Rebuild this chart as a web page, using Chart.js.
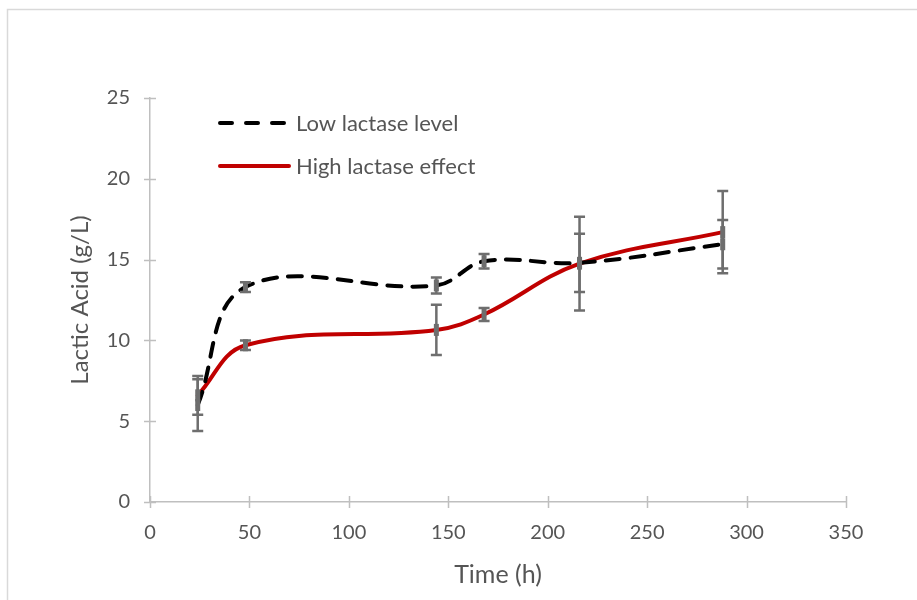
<!DOCTYPE html>
<html>
<head>
<meta charset="utf-8">
<script src="https://cdn.jsdelivr.net/npm/chart.js@4.4.1/dist/chart.umd.min.js"></script>
<style>
    html, body { margin: 0; padding: 0; background: #fff; }
    #wrap { width: 917px; height: 600px; }
</style>
</head>
<body>
<div id="wrap"><canvas id="myChart" width="917" height="600"></canvas></div>
<script>
// values
const hours = [24, 48, 144, 168, 216, 288];
const lowLactase = [6.0, 13.3, 13.4, 14.9, 14.8, 15.95];
const lowLactaseErr = [1.6, 0.3, 0.5, 0.45, 1.8, 1.5];
const highLactase = [6.6, 9.7, 10.65, 11.6, 14.75, 16.7];
const highLactaseErr = [1.2, 0.3, 1.55, 0.4, 2.9, 2.55];
const seriesNames = ['Low lactase level', 'High lactase effect'];
const xTicks = [0, 50, 100, 150, 200, 250, 300, 350];
const yTicks = [0, 5, 10, 15, 20, 25];

const textColor = '#555555';
const axisColor = '#bfbfbf';
const errColor = '#6e6e6e';
const fontFamily = 'Lato, "Open Sans", sans-serif';

const toPoints = (ys) => hours.map((x, i) => ({ x, y: ys[i] }));

const frame = {
    id: 'frame',
    beforeDraw(chart) {
        const { ctx } = chart;
        ctx.save();
        ctx.strokeStyle = '#d9d9d9';
        ctx.lineWidth = 1.5;
        ctx.beginPath();
        ctx.moveTo(7.5, 600);
        ctx.lineTo(7.5, 9.5);
        ctx.lineTo(917, 9.5);
        ctx.stroke();
        ctx.restore();
    },
    afterDraw(chart) {
        // tick marks crossing the axis lines, like the original
        const { ctx, scales: { x, y }, chartArea } = chart;
        ctx.save();
        ctx.strokeStyle = axisColor;
        ctx.lineWidth = 1.5;
        ctx.beginPath();
        xTicks.forEach(v => {
            const px = Math.round(x.getPixelForValue(v)) + 0.5;
            ctx.moveTo(px, chartArea.bottom - 6);
            ctx.lineTo(px, chartArea.bottom + 6);
        });
        yTicks.forEach(v => {
            const py = Math.round(y.getPixelForValue(v)) + 0.5;
            ctx.moveTo(chartArea.left - 6, py);
            ctx.lineTo(chartArea.left + 6, py);
        });
        ctx.stroke();
        ctx.restore();
    }
};

const errorBars = {
    id: 'errorBars',
    afterDatasetsDraw(chart) {
        const { ctx, scales: { x, y } } = chart;
        const sets = [[lowLactase, lowLactaseErr], [highLactase, highLactaseErr]];
        ctx.save();
        ctx.strokeStyle = errColor;
        ctx.fillStyle = errColor;
        ctx.lineWidth = 2.5;
        sets.forEach(([vals, errs]) => {
            hours.forEach((h, i) => {
                const px = x.getPixelForValue(h);
                const top = y.getPixelForValue(vals[i] + errs[i]);
                const bottom = y.getPixelForValue(vals[i] - errs[i]);
                ctx.beginPath();
                ctx.moveTo(px, top);
                ctx.lineTo(px, bottom);
                ctx.moveTo(px - 5.5, top);
                ctx.lineTo(px + 5.5, top);
                ctx.moveTo(px - 5.5, bottom);
                ctx.lineTo(px + 5.5, bottom);
                ctx.stroke();
                const py = y.getPixelForValue(vals[i]);
                ctx.fillRect(px - 2.5, py - 6, 5, 12);
            });
        });
        ctx.restore();
    }
};

const insideLegend = {
    id: 'insideLegend',
    afterDraw(chart) {
        const { ctx } = chart;
        const rows = [
            { y: 123, color: '#000000', dash: [12, 14] },
            { y: 166, color: '#c00000', dash: [] },
        ];
        ctx.save();
        rows.forEach((row, i) => {
            ctx.strokeStyle = row.color;
            ctx.lineWidth = 4;
            ctx.lineCap = 'round';
            ctx.setLineDash(row.dash);
            ctx.beginPath();
            ctx.moveTo(220, row.y);
            ctx.lineTo(289, row.y);
            ctx.stroke();
            ctx.setLineDash([]);
            ctx.fillStyle = textColor;
            ctx.font = `22px ${fontFamily}`;
            ctx.textBaseline = 'middle';
            ctx.fillText(seriesNames[i], 296, row.y + 1);
        });
        ctx.restore();
    }
};

window.addEventListener('load', () => {
    const ctx = document.getElementById('myChart').getContext('2d');
    new Chart(ctx, {
        type: 'line',
        data: {
            datasets: [{
                label: seriesNames[0],
                data: toPoints(lowLactase),
                borderColor: '#000000',
                borderWidth: 4,
                borderDash: [14, 11],
                borderCapStyle: 'round',
                tension: 0.38,
                pointRadius: 0,
                fill: false,
            }, {
                label: seriesNames[1],
                data: toPoints(highLactase),
                borderColor: '#c00000',
                borderWidth: 4,
                borderCapStyle: 'round',
                tension: 0.38,
                pointRadius: 0,
                fill: false,
            }]
        },
        options: {
            responsive: false,
            animation: false,
            layout: { padding: { left: 0, top: 98, right: 71, bottom: 0 } },
            plugins: {
                legend: { display: false },
                tooltip: { enabled: false },
            },
            scales: {
                x: {
                    type: 'linear',
                    min: 0,
                    max: 350,
                    afterBuildTicks: (axis) => { axis.ticks = xTicks.map(value => ({ value })); },
                    afterFit: (axis) => { axis.height = 98; },
                    grid: { display: false },
                    border: { color: axisColor, width: 1.5 },
                    ticks: { color: textColor, font: { family: fontFamily, size: 20 }, padding: 11, maxRotation: 0 },
                    title: {
                        display: true,
                        text: 'Time (h)',
                        color: textColor,
                        font: { family: fontFamily, size: 25 },
                        padding: { top: 0, bottom: 10 },
                    },
                },
                y: {
                    min: 0,
                    max: 25,
                    afterBuildTicks: (axis) => { axis.ticks = yTicks.map(value => ({ value })); },
                    afterFit: (axis) => { axis.width = 150; },
                    grid: { display: false },
                    border: { color: axisColor, width: 1.5 },
                    ticks: { color: textColor, font: { family: fontFamily, size: 20 }, padding: 12 },
                    title: {
                        display: true,
                        text: 'Lactic Acid (g/L)',
                        color: textColor,
                        font: { family: fontFamily, size: 24 },
                        padding: { top: 66, bottom: 0 },
                    },
                },
            },
        },
        plugins: [frame, errorBars, insideLegend],
    });
});
</script>
</body>
</html>
